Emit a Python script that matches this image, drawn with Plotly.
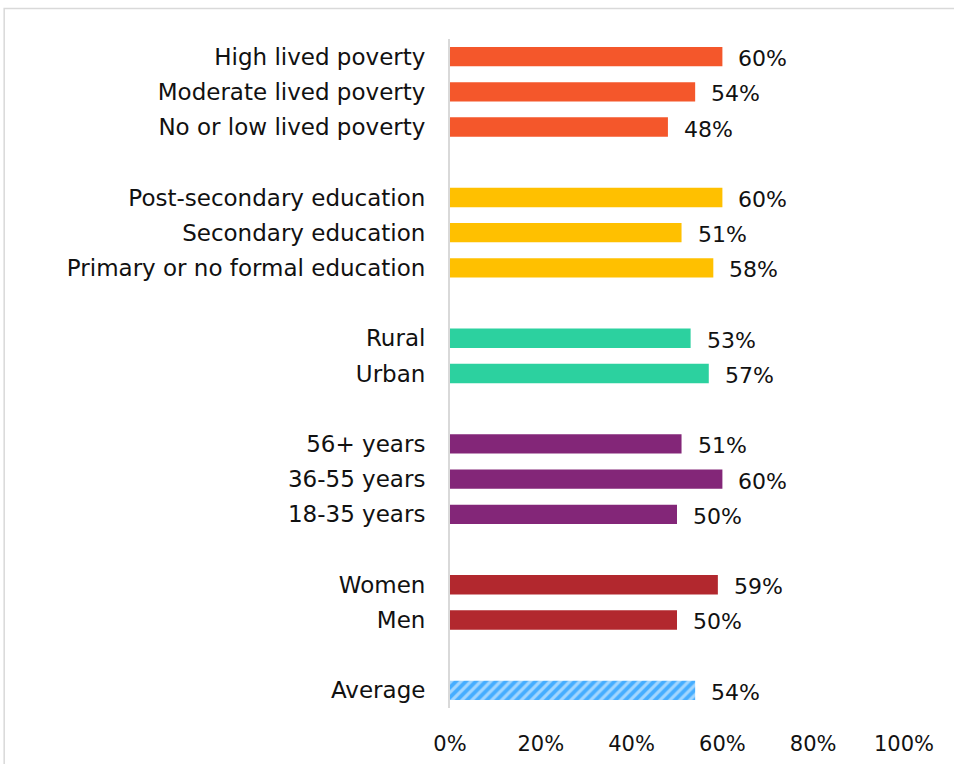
import plotly.graph_objects as go

# Share of respondents, by demographic group (%)
poverty_labels = ["High lived poverty", "Moderate lived poverty", "No or low lived poverty"]
poverty_values = [60, 54, 48]

education_labels = ["Post-secondary education", "Secondary education", "Primary or no formal education"]
education_values = [60, 51, 58]

location_labels = ["Rural", "Urban"]
location_values = [53, 57]

age_labels = ["56+ years", "36-55 years", "18-35 years"]
age_values = [51, 60, 50]

gender_labels = ["Women", "Men"]
gender_values = [59, 50]

average_label = ["Average"]
average_value = [54]

x_tick_values = [0, 20, 40, 60, 80, 100]
x_tick_labels = ["0%", "20%", "40%", "60%", "80%", "100%"]

groups = [
    (poverty_labels, poverty_values, "#F4572B"),
    (education_labels, education_values, "#FFC000"),
    (location_labels, location_values, "#2CD19F"),
    (age_labels, age_values, "#832678"),
    (gender_labels, gender_values, "#B2282E"),
]

FONT = "DejaVu Sans"
TEXT = "#111111"
VALUE_FONT = dict(family=FONT, size=22, color=TEXT)

fig = go.Figure()


def add_value_labels(positions, values):
    for p, v in zip(positions, values):
        fig.add_annotation(x=v, y=p, text=f"{v}%", showarrow=False,
                           xanchor="left", xshift=14, yshift=-2,
                           font=VALUE_FONT)


# Lay the groups out top to bottom with one empty row between them
row = 0
tick_pos, tick_text = [], []
for labels, values, color in groups:
    pos = list(range(row, row + len(labels)))
    fig.add_trace(go.Bar(
        y=pos, x=values, orientation="h", width=0.55,
        marker=dict(color=color, line=dict(width=0)),
        showlegend=False, hoverinfo="skip",
    ))
    add_value_labels(pos, values)
    tick_pos += pos
    tick_text += labels
    row += len(labels) + 1

# Overall average: blue bar hatched with white diagonal stripes
avg_pos = [row]
fig.add_trace(go.Bar(
    y=avg_pos, x=average_value, orientation="h", width=0.55,
    marker=dict(color="#45ADFF", line=dict(width=0),
                pattern=dict(shape="/", fgcolor="#FFFFFF", fillmode="overlay",
                             size=7, solidity=0.45)),
    showlegend=False, hoverinfo="skip",
))
add_value_labels(avg_pos, average_value)
tick_pos += avg_pos
tick_text += average_label

# Light frame around the chart area
fig.add_shape(type="rect", xref="paper", yref="paper",
              x0=-0.982, x1=1.3, y0=-0.3, y1=1.0455,
              line=dict(color="#D9D9D9", width=1.5), fillcolor="rgba(0,0,0,0)")

fig.update_layout(
    width=954, height=764,
    margin=dict(l=450, r=50, t=39, b=56),
    plot_bgcolor="white", paper_bgcolor="white",
    barmode="overlay",
    font=dict(family=FONT, size=21, color=TEXT),
    xaxis=dict(range=[0, 100], tickvals=x_tick_values, ticktext=x_tick_labels,
               showgrid=False, zeroline=False, showline=False, automargin=False,
               ticks="outside", ticklen=17, tickcolor="rgba(0,0,0,0)",
               tickfont=dict(family=FONT, size=21, color=TEXT)),
    yaxis=dict(range=[row + 0.5, -0.5], tickvals=tick_pos, ticktext=tick_text,
               showgrid=False, zeroline=False, automargin=False,
               showline=True, linecolor="#D9D9D9", linewidth=2,
               ticks="outside", ticklen=18, tickcolor="rgba(0,0,0,0)",
               tickfont=dict(family=FONT, size=23, color=TEXT)),
)

fig.write_html("out.html")
